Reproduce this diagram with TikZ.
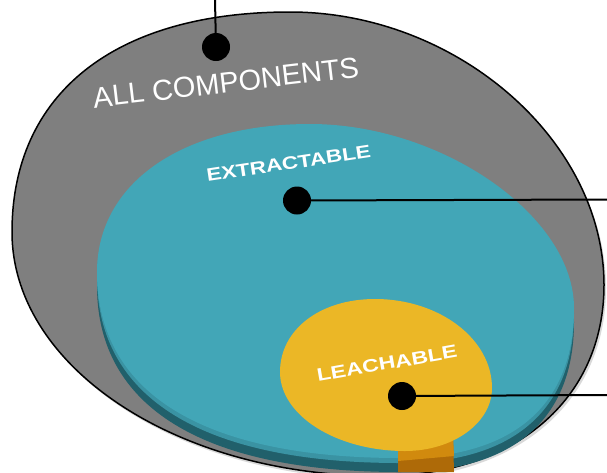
\documentclass[tikz,border=0pt]{standalone}
\usepackage{fontspec}
\setmainfont{Liberation Sans}
\newfontfamily\widesans[FakeStretch=1.25]{Liberation Sans}
\newfontfamily\widersans[FakeStretch=1.28]{Liberation Sans}
\definecolor{grayfill}{HTML}{7F7F7F}
\definecolor{tealtop}{HTML}{42A6B7}
\definecolor{tealrim}{HTML}{3A93A3}
\definecolor{tealdark}{HTML}{21606B}
\definecolor{yell}{HTML}{EBB726}
\definecolor{orlight}{HTML}{D18A0E}
\definecolor{ordark}{HTML}{AE6A08}
\def\graypath{(12,232) .. controls (12,93.4) and (114.9,12) .. (290,12) .. controls (456.4,12) and (604,140.3) .. (604,285) .. controls (604,399.6) and (514.4,476) .. (380,476) .. controls (176.8,476) and (12,366.8) .. (12,232) -- cycle}
\def\tealpath{(97,272) .. controls (97,183.2) and (182.2,124) .. (310,124) .. controls (442,124) and (574,216) .. (574,308) .. controls (574,405.5) and (513,458) .. (400,458) .. controls (203,458) and (97,393) .. (97,272) -- cycle}
\def\yellpath{(280,372) .. controls (280,329.7) and (319.9,299) .. (375,299) .. controls (439.4,299) and (492,339) .. (492,388) .. controls (492,423) and (452.9,451) .. (405,451) .. controls (336.4,451) and (280,415.5) .. (280,372) -- cycle}
\begin{document}
\begin{tikzpicture}[x=1pt,y=-1pt,
  dot/.style={circle,fill=black,inner sep=0pt,minimum size=28pt},
  leader/.style={line width=2pt,black},
  biglbl/.style={text=white,font=\fontsize{29}{32}\selectfont,inner sep=0pt,anchor=base},
  lbl/.style={text=white,inner sep=0pt,anchor=base}]
\useasboundingbox (0,0) rectangle (607,472);
\fill[white] (0,0) rectangle (607,472);
\clip (0,0) rectangle (607,472);
% outer gray ellipse
\fill[black!15,shift={(2,3)}] \graypath;
\fill[grayfill] \graypath;
\draw[line width=1.5pt,black] \graypath;
% teal disc (side then top)
\fill[tealdark,shift={(0,14)}] \tealpath;
\fill[tealrim,shift={(0,5)}] \tealpath;
\fill[tealtop] \tealpath;
% orange tab of the yellow cylinder
\fill[ordark] (398,452) -- (453,436) -- (454,472) -- (398,472) -- cycle;
\fill[orlight] (398,450) -- (453,436) -- (454,456) -- (398,461) -- cycle;
% yellow top
\fill[yell] \yellpath;
% labels
\node[biglbl,rotate=6.7] (tall) at (227,92.5) {ALL COMPONENTS};
\node[lbl,rotate=8.6,font=\widesans\bfseries\fontsize{18}{20}\selectfont] (text) at (289.5,169.5) {EXTRACTABLE};
\node[lbl,rotate=10,font=\widersans\bfseries\fontsize{18}{20}\selectfont] (tlea) at (388,369.5) {LEACHABLE};
% dots and leaders
\node[dot] (d1) at (216,47) {};
\node[dot] (d2) at (297,200.5) {};
\node[dot] (d3) at (402,396) {};
\coordinate (e1) at (215,0);
\coordinate (e2) at (607,199.5);
\coordinate (e3) at (607,395);
\draw[leader] (d1.center) -- (e1);
\draw[leader] (d2.center) -- (e2);
\draw[leader] (d3.center) -- (e3);
\end{tikzpicture}
\end{document}
